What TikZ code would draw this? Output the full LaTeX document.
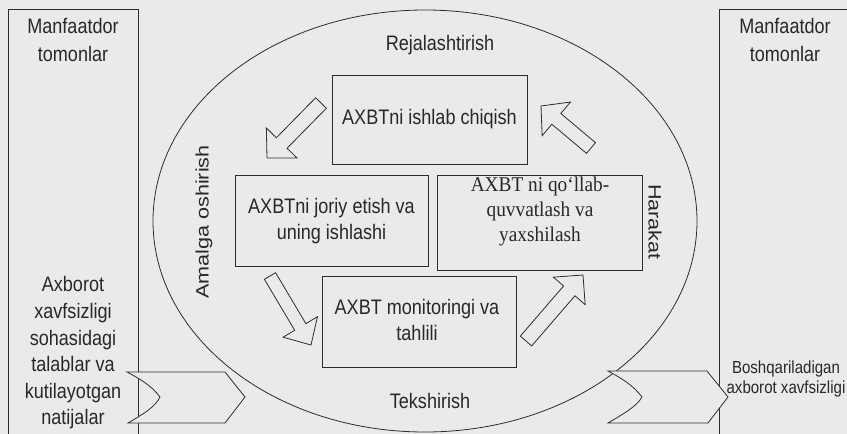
\documentclass[tikz,border=0pt]{standalone}
\usepackage{fontspec}
\setmainfont{Liberation Sans}
\newfontfamily\arn[FakeStretch=0.86]{Liberation Sans}
\newfontfamily\arv[FakeStretch=1.2]{Liberation Sans}
\newfontfamily\tmn[FakeStretch=0.92]{Liberation Serif}
\usetikzlibrary{calc}
\definecolor{bgc}{RGB}{234,234,234}
\definecolor{ln}{RGB}{45,45,45}
\definecolor{txc}{RGB}{40,40,40}
\newcommand\blockarrow[5]{% tail, tip, half shaft, half head, head length
  \coordinate (ban) at ($(#2)!#5!(#1)$);
  \draw[blk] ($(#1)!#3!90:(#2)$) -- ($(ban)!#3!90:(#2)$) -- ($(ban)!#4!90:(#2)$) -- (#2)
    -- ($(ban)!#4!-90:(#2)$) -- ($(ban)!#3!-90:(#2)$) -- ($(#1)!#3!-90:(#2)$) -- cycle;}
\begin{document}
\begin{tikzpicture}[x=1pt,y=-1pt,line width=0.8pt,
  every node/.style={inner sep=0pt, outer sep=0pt},
  side/.style={draw=ln},
  box/.style={draw=ln, rectangle},
  blk/.style={draw=ln, fill=bgc, line join=miter},
  txt/.style={font=\arn\fontsize{21}{26}\selectfont, align=center, text=txc},
  txs/.style={font=\arn\fontsize{17.5}{20}\selectfont, align=center, text=txc},
  txv/.style={font=\arv\fontsize{18}{22}\selectfont, text=txc},
  txt2/.style={font=\tmn\fontsize{21}{25}\selectfont, align=center, text=txc}]
\fill[bgc] (0,0) rectangle (847,434);
\useasboundingbox (0,0) rectangle (847,434);
\clip (0,0) rectangle (847,434);
% side boxes
\draw[side] (8,9) rectangle (138,445);
\draw[side] (719,9) rectangle (870,445);
\node[txt, font=\arn\fontsize{21}{28}\selectfont] (mtl) at (73,40) {Manfaatdor\\tomonlar};
\node[txt, font=\arn\fontsize{21}{28}\selectfont] (mtr) at (785,40) {Manfaatdor\\tomonlar};
\node[txt, font=\arn\fontsize{21}{26.6}\selectfont] (req) at (73,353) {Axborot\\xavfsizligi\\sohasidagi\\talablar va\\kutilayotgan\\natijalar};
% cycle
\draw[ln] (425,221) ellipse [x radius=272, y radius=211];
\node[txt] (plan) at (440,45) {Rejalashtirish};
\node[txt] (chk) at (430,401) {Tekshirish};
\node[txv, rotate=90] (do) at (204,222) {Amalga oshirish};
\node[txv, rotate=-90] (act) at (655,222) {Harakat};
% boxes
\node[box, minimum width=195pt, minimum height=89pt] (b1) at (429.5,119.5) {};
\node[txt] (b1t) at (b1) {AXBTni ishlab chiqish};
\node[box, minimum width=193pt, minimum height=91pt] (b2) at (331.5,220.5) {};
\node[txt] (b2t) at (331.5,221) {AXBTni joriy etish va\\uning ishlashi};
\node[box, minimum width=205pt, minimum height=95pt] (b3) at (539.5,222.5) {};
\node[txt2] (b3t) at (540,211) {AXBT ni qo‘llab-\\quvvatlash va\\yaxshilash};
\node[box, minimum width=194pt, minimum height=91pt] (b4) at (419,321.5) {};
\node[txt] (b4t) at (417,320) {AXBT monitoringi va\\tahlili};
% inner block arrows
\coordinate (a1s) at (321,103); \coordinate (a1e) at (267,158);
\coordinate (a2s) at (591,148); \coordinate (a2e) at (541,106);
\coordinate (a3s) at (270,276); \coordinate (a3e) at (311,345);
\coordinate (a4s) at (526,341); \coordinate (a4e) at (583,275);
\blockarrow{a1s}{a1e}{7.5pt}{21.5pt}{21pt}
\blockarrow{a2s}{a2e}{7pt}{22pt}{20pt}
\blockarrow{a3s}{a3e}{6.5pt}{20pt}{21pt}
\blockarrow{a4s}{a4e}{7.5pt}{21pt}{21pt}
% input / output arrows
\coordinate (inA) at (127,372); \coordinate (inB) at (225,372); \coordinate (inT) at (245,397);
\coordinate (inC) at (225,423); \coordinate (inD) at (128,423); \coordinate (inN) at (160,397);
\draw[blk] (inA) -- (inB) -- (inT) -- (inC) -- (inD)
  .. controls (145,413) and (155,407) .. (inN)
  .. controls (152,386) and (140,379) .. (inA) -- cycle;
\coordinate (outA) at (608,371); \coordinate (outB) at (707,371); \coordinate (outT) at (728,397);
\coordinate (outC) at (708,423); \coordinate (outD) at (608,423); \coordinate (outN) at (642,397);
\draw[blk] (outA) -- (outB) -- (outT) -- (outC) -- (outD)
  .. controls (625,413) and (637,406) .. (outN)
  .. controls (633,385) and (621,378) .. (outA) -- cycle;
\node[txs] (res) at (786,379) {Boshqariladigan\\axborot xavfsizligi};
\end{tikzpicture}
\end{document}
